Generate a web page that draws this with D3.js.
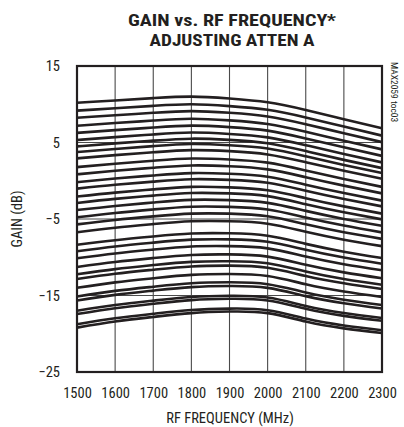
<!DOCTYPE html>
<html>
<head>
<meta charset="utf-8">
<script src="https://cdn.jsdelivr.net/npm/d3@7"></script>
<style>
  html, body { margin: 0; padding: 0; background: #fff; }
  svg { display: block; }
  text { font-family: "Liberation Sans Narrow", "Arial Narrow", "Roboto Condensed", sans-serif; fill: #231f20; }
</style>
</head>
<body>
<svg id="chart" width="404" height="427"></svg>
<script>
// RF frequency points (MHz)
const frequencies = [1500, 1600, 1700, 1800, 1900, 2000, 2100, 2200, 2300];

// Gain (dB) for each ATTEN A setting, top curve = minimum attenuation
const gainCurves = [
  [10.2, 10.5, 10.8, 11.0, 10.75, 10.25, 9.25, 8.05, 6.85],
  [9.17, 9.48, 9.79, 10.0, 9.76, 9.27, 8.27, 7.08, 5.9],
  [8.23, 8.56, 8.88, 9.1, 8.88, 8.4, 7.39, 6.21, 5.05],
  [7.19, 7.54, 7.87, 8.1, 7.89, 7.42, 6.41, 5.24, 4.1],
  [6.26, 6.62, 6.96, 7.2, 7.01, 6.55, 5.53, 4.37, 3.25],
  [5.32, 5.7, 6.05, 6.3, 6.12, 5.67, 4.65, 3.5, 2.4],
  [4.49, 4.88, 5.24, 5.5, 5.34, 4.9, 3.88, 2.73, 1.65],
  [3.75, 4.16, 4.53, 4.8, 4.65, 4.22, 3.2, 2.06, 1.0],
  [2.92, 3.35, 3.72, 4.0, 3.87, 3.44, 2.42, 1.3, 0.25],
  [1.78, 2.23, 2.61, 2.9, 2.78, 2.37, 1.34, 0.23, -0.8],
  [0.84, 1.31, 1.7, 2.0, 1.9, 1.49, 0.46, -0.64, -1.65],
  [-0.19, 0.29, 0.69, 1.0, 0.91, 0.52, -0.52, -1.61, -2.6],
  [-1.03, -0.53, -0.12, 0.2, 0.12, -0.26, -1.3, -2.38, -3.35],
  [-2.06, -1.55, -1.13, -0.8, -0.86, -1.24, -2.28, -3.35, -4.3],
  [-2.9, -2.37, -1.94, -1.6, -1.65, -2.01, -3.06, -4.12, -5.05],
  [-3.83, -3.29, -2.85, -2.5, -2.53, -2.89, -3.94, -4.99, -5.9],
  [-4.77, -4.21, -3.75, -3.4, -3.42, -3.76, -4.81, -5.86, -6.75],
  [-5.7, -5.13, -4.66, -4.3, -4.3, -4.64, -5.69, -6.73, -7.6],
  [-6.74, -6.15, -5.67, -5.3, -5.29, -5.61, -6.67, -7.7, -8.55],
  [-8.37, -7.77, -7.28, -6.9, -6.87, -7.19, -8.25, -9.27, -10.1],
  [-9.21, -8.59, -8.09, -7.7, -7.66, -7.97, -9.03, -10.04, -10.85],
  [-10.14, -9.51, -9.0, -8.6, -8.55, -8.84, -9.91, -10.91, -11.7],
  [-11.28, -10.63, -10.11, -9.7, -9.63, -9.92, -10.99, -11.98, -12.75],
  [-12.22, -11.55, -11.02, -10.6, -10.52, -10.79, -11.87, -12.85, -13.6],
  [-12.85, -12.16, -11.63, -11.2, -11.1, -11.37, -12.45, -13.41, -14.15],
  [-13.99, -13.28, -12.74, -12.3, -12.19, -12.45, -13.53, -14.48, -15.2],
  [-15.12, -14.4, -13.85, -13.4, -13.27, -13.52, -14.6, -15.55, -16.25],
  [-15.66, -14.92, -14.36, -13.9, -13.76, -14.0, -15.08, -16.02, -16.7],
  [-16.99, -16.24, -15.67, -15.2, -15.04, -15.27, -16.36, -17.29, -17.95],
  [-17.43, -16.66, -16.08, -15.6, -15.43, -15.65, -16.74, -17.66, -18.3],
  [-18.76, -17.98, -17.39, -16.9, -16.71, -16.92, -18.02, -18.93, -19.55],
  [-19.2, -18.4, -17.8, -17.3, -17.1, -17.3, -18.4, -19.3, -19.9]
];

const xTicks = [1500, 1600, 1700, 1800, 1900, 2000, 2100, 2200, 2300];
const yTicks = [15, 5, -5, -15, -25];

const titleLines = ["GAIN vs. RF FREQUENCY*", "ADJUSTING ATTEN A"];
const xTitle = "RF FREQUENCY (MHz)";
const yTitle = "GAIN (dB)";
const sideNote = "MAX2059 toc03";

const svg = d3.select("#chart");
const plot = { left: 77, right: 382, top: 66, bottom: 372 };

const x = d3.scaleLinear().domain([1500, 2300]).range([plot.left, plot.right]);
const y = d3.scaleLinear().domain([-25, 15]).range([plot.bottom, plot.top]);

// grid
const g = svg.append("g");
g.selectAll("line.vgrid").data(xTicks.slice(1, -1)).enter().append("line")
  .attr("x1", d => x(d)).attr("x2", d => x(d))
  .attr("y1", plot.top).attr("y2", plot.bottom)
  .attr("stroke", "#4a4a4a").attr("stroke-width", 1.1);
g.selectAll("line.hgrid").data(yTicks.slice(1, -1)).enter().append("line")
  .attr("x1", plot.left).attr("x2", plot.right)
  .attr("y1", d => y(d)).attr("y2", d => y(d))
  .attr("stroke", "#4a4a4a").attr("stroke-width", 1.1);

// curves
const line = d3.line()
  .x((d, i) => x(frequencies[i]))
  .y(d => y(d))
  .curve(d3.curveNatural);

svg.append("g").selectAll("path").data(gainCurves).enter().append("path")
  .attr("d", line)
  .attr("fill", "none")
  .attr("stroke", "#231f20")
  .attr("stroke-width", 2.6)
  .attr("stroke-linejoin", "round");

// frame
svg.append("rect")
  .attr("x", plot.left).attr("y", plot.top)
  .attr("width", plot.right - plot.left).attr("height", plot.bottom - plot.top)
  .attr("fill", "none").attr("stroke", "#231f20").attr("stroke-width", 2.2);

// axes (labels only)
const xAxis = d3.axisBottom(x).tickValues(xTicks).tickSize(0).tickPadding(0).tickFormat(d3.format("d"));
const xa = svg.append("g").attr("transform", `translate(0,${plot.bottom + 26})`).call(xAxis);
xa.select(".domain").remove();
xa.selectAll("text").attr("font-size", 14.5).attr("dy", 0).style("font-family", null);

const yAxis = d3.axisLeft(y).tickValues(yTicks).tickSize(0).tickPadding(0).tickFormat(d3.format("d"));
const ya = svg.append("g").attr("transform", `translate(60,0)`).call(yAxis);
ya.select(".domain").remove();
ya.selectAll("text").attr("font-size", 14.5).style("font-family", null);

// two-line bold title, stretched to the full title width
const titleWidths = [208, 165];
svg.append("g").selectAll("text").data(titleLines).enter().append("text")
  .attr("x", 232)
  .attr("y", (d, i) => 25.5 + i * 20)
  .attr("text-anchor", "middle")
  .attr("font-size", 16.5).attr("font-weight", "bold")
  .attr("textLength", (d, i) => titleWidths[i])
  .attr("lengthAdjust", "spacingAndGlyphs")
  .text(d => d);

svg.append("text")
  .attr("x", 230).attr("y", 423)
  .attr("text-anchor", "middle").attr("font-size", 14.5)
  .text(xTitle);

svg.append("text")
  .attr("transform", `translate(22,${(plot.top + plot.bottom) / 2}) rotate(-90)`)
  .attr("text-anchor", "middle").attr("font-size", 14.5)
  .text(yTitle);

svg.append("text")
  .attr("transform", `translate(391,62) rotate(90)`)
  .attr("text-anchor", "start").attr("font-size", 9.5)
  .attr("fill", "#444")
  .text(sideNote);
</script>
</body>
</html>
